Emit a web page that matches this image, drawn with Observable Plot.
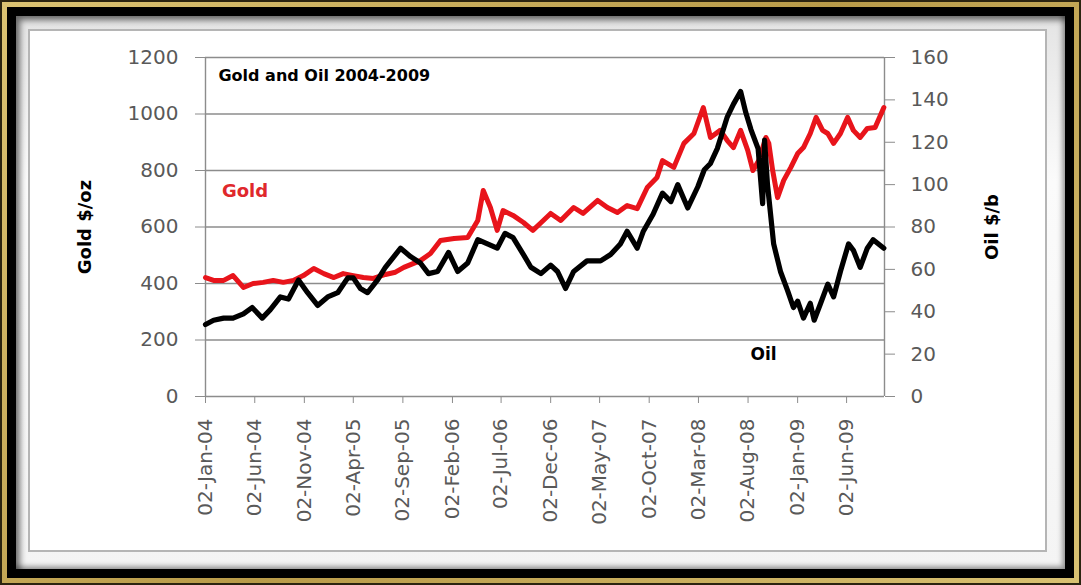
<!DOCTYPE html>
<html><head><meta charset="utf-8">
<script src="https://cdn.jsdelivr.net/npm/d3@7"></script>
<script src="https://cdn.jsdelivr.net/npm/@observablehq/plot@0.6"></script>
<style>
html,body{margin:0;padding:0;background:#fff;}
#wrap{position:relative;width:1081px;height:585px;overflow:hidden;font-family:"DejaVu Sans",sans-serif;}
.f0{position:absolute;left:0;top:0;width:1081px;height:585px;background:#2b2410;}
.f1{position:absolute;left:2px;top:2px;right:2px;bottom:2px;background:linear-gradient(135deg,#dcc372,#b99b49 50%,#d9c172);}
.f2{position:absolute;left:7px;top:7px;right:7px;bottom:7px;background:#000;}
.f3{position:absolute;left:16px;top:16px;right:16px;bottom:16px;background:linear-gradient(#e4e4e4,#fbfbfb 30%,#f4f4f4);box-shadow:inset 4px 4px 6px rgba(0,0,0,.55), inset -3px -3px 5px rgba(0,0,0,.35);}
.f4{position:absolute;left:28px;top:29px;width:1015px;height:519px;border:2px solid #b5b5b5;background:#fff;}
.plot{position:absolute;left:0;top:0;}
</style>
</head><body>
<div id="wrap">
<div class="f0"></div><div class="f1"></div><div class="f2"></div><div class="f3"></div><div class="f4"></div>
<div class="plot" id="p1"></div>
<div class="plot" id="p2"></div>
</div>
<script>
// ---- data ----
const goldDates = ["2004-01-02","2004-01-27","2004-02-27","2004-03-27","2004-04-28","2004-05-28","2004-06-28","2004-07-29","2004-08-29","2004-09-29","2004-10-30","2004-12-01","2005-01-01","2005-02-01","2005-03-02","2005-04-02","2005-05-03","2005-06-03","2005-07-10","2005-08-10","2005-09-05","2005-10-26","2005-11-26","2005-12-27","2006-02-07","2006-03-21","2006-04-21","2006-05-08","2006-05-30","2006-06-20","2006-07-08","2006-08-08","2006-09-09","2006-10-08","2006-11-02","2006-12-02","2007-01-02","2007-02-11","2007-03-12","2007-04-26","2007-05-26","2007-06-26","2007-07-26","2007-08-26","2007-09-26","2007-10-26","2007-11-12","2007-12-17","2008-01-17","2008-02-17","2008-03-17","2008-04-08","2008-05-08","2008-05-30","2008-06-18","2008-07-10","2008-08-01","2008-08-17","2008-09-04","2008-09-26","2008-10-05","2008-10-17","2008-11-01","2008-11-20","2008-12-12","2009-01-02","2009-01-20","2009-02-10","2009-02-28","2009-03-20","2009-04-05","2009-04-23","2009-05-14","2009-06-05","2009-06-23","2009-07-14","2009-08-05","2009-08-29","2009-09-25"];
const goldPrice = [421,411,411,428,386,400,404,411,404,411,428,453,435,421,435,428,421,418,432,440,457,481,506,552,559,563,623,729,669,588,658,641,616,588,615,648,623,669,648,694,669,651,676,665,740,775,835,811,896,931,1023,917,942,906,881,942,871,800,835,917,896,800,704,765,811,860,881,931,988,942,931,896,931,988,942,917,949,952,1023];

const oilDates = ["2004-01-02","2004-01-27","2004-02-27","2004-03-27","2004-04-28","2004-05-25","2004-06-25","2004-07-20","2004-08-20","2004-09-14","2004-10-15","2004-11-12","2004-12-13","2005-01-13","2005-02-13","2005-03-16","2005-04-02","2005-04-24","2005-05-16","2005-06-16","2005-07-10","2005-08-26","2005-09-26","2005-10-26","2005-11-20","2005-12-18","2006-01-21","2006-02-18","2006-03-21","2006-04-21","2006-05-21","2006-06-20","2006-07-14","2006-08-08","2006-09-09","2006-10-02","2006-11-02","2006-12-02","2006-12-23","2007-01-17","2007-02-11","2007-03-24","2007-05-05","2007-06-05","2007-07-05","2007-07-26","2007-08-26","2007-09-14","2007-10-14","2007-11-12","2007-12-08","2007-12-29","2008-01-29","2008-02-29","2008-03-20","2008-04-08","2008-04-29","2008-05-30","2008-06-18","2008-07-10","2008-07-26","2008-08-11","2008-09-02","2008-09-16","2008-09-22","2008-10-01","2008-10-20","2008-11-10","2008-12-02","2008-12-20","2009-01-02","2009-01-20","2009-02-10","2009-02-22","2009-03-14","2009-04-05","2009-04-23","2009-05-14","2009-06-08","2009-06-23","2009-07-14","2009-08-05","2009-08-23","2009-09-25"];
const oilPrice = [34,36,37,37,39,42,37,41,47,46,55,49,43,47,49,56,56,51,49,55,61,70,66,63,58,59,68,59,63,74,72,70,77,75,67,61,58,62,59,51,59,64,64,67,72,78,70,78,86,96,92,100,89,99,107,110,117,132,138,144,134,126,117,91,121,100,72,59,50,42,45,37,44,36,44,53,47,59,72,69,61,70,74,70];

const goldTicks = [0,200,400,600,800,1000,1200];
const oilTicks = [0,20,40,60,80,100,120,140,160];
const dateTickLabels = ["02-Jan-04","02-Jun-04","02-Nov-04","02-Apr-05","02-Sep-05","02-Feb-06","02-Jul-06","02-Dec-06","02-May-07","02-Oct-07","02-Mar-08","02-Aug-08","02-Jan-09","02-Jun-09"];
const dateDomain = ["2004-01-02","2009-09-27"];

const titleText = "Gold and Oil 2004-2009";
const goldAxisTitle = "Gold $/oz";
const oilAxisTitle = "Oil $/b";
const goldLabel = {date:"2004-05-03", value:726, text:"Gold"};
const oilLabel = {date:"2008-09-19", value:20, text:"Oil"};
const titlePos = {date:"2004-02-11", value:1136};

// ---- build ----
const parse = d3.utcParse("%Y-%m-%d");
const parseTick = d3.utcParse("%d-%b-%y");
const gold = goldDates.map((d,i)=>({date:parse(d), value:goldPrice[i]}));
const oil = oilDates.map((d,i)=>({date:parse(d), value:oilPrice[i]}));
const xTicks = dateTickLabels.map(s=>({date:parseTick(s), label:s}));
const xDomain = dateDomain.map(parse);

const gridColor = "#8c8c8c";
const tickTextColor = "#595959";
const font = "DejaVu Sans";

const common = {
  width:1081, height:585,
  marginTop:57, marginRight:197, marginBottom:189, marginLeft:205,
  style:{background:"transparent", overflow:"visible", fontFamily:font},
  x:{type:"utc", domain:xDomain, axis:null}
};

const p1 = Plot.plot({
  ...common,
  y:{domain:[0,1200], axis:null},
  marks:[
    Plot.ruleY(goldTicks, {stroke:gridColor, strokeWidth:1.4}),
    Plot.ruleX(xDomain, {stroke:gridColor, strokeWidth:1.4}),
    Plot.axisY(goldTicks, {anchor:"left", tickSize:10, tickPadding:17, fontSize:20, stroke:gridColor, fill:tickTextColor, label:null, tickFormat:d=>String(d)}),
    Plot.axisX(xTicks.map(d=>d.date), {anchor:"bottom", tickSize:7, stroke:gridColor, tickFormat:()=>"", label:null}),
    Plot.text(xTicks, {x:"date", text:"label", frameAnchor:"bottom", rotate:-90, textAnchor:"end", lineAnchor:"middle", dy:22, fontSize:20, fill:tickTextColor}),
    Plot.line(gold, {x:"date", y:"value", stroke:"#e8141b", strokeWidth:5, strokeLinejoin:"round", strokeLinecap:"round"}),
    Plot.text([goldLabel], {x:d=>parse(d.date), y:"value", text:"text", fill:"#e0282c", fontSize:18, fontWeight:"bold", textAnchor:"middle"}),
    Plot.text([titleText], {x:()=>parse(titlePos.date), y:()=>titlePos.value, text:d=>d, fill:"#000", fontSize:16, fontWeight:"bold", textAnchor:"start"}),
    Plot.text([goldAxisTitle], {text:d=>d, frameAnchor:"left", dx:-120, rotate:-90, textAnchor:"middle", fontSize:18, fontWeight:"bold", fill:"#000"})
  ]
});
document.getElementById("p1").appendChild(p1);

const p2 = Plot.plot({
  ...common,
  y:{domain:[0,160], axis:null},
  marks:[
    Plot.axisY(oilTicks, {anchor:"right", tickSize:10, tickPadding:16, fontSize:20, stroke:gridColor, fill:tickTextColor, label:null, tickFormat:d=>String(d)}),
    Plot.line(oil, {x:"date", y:"value", stroke:"#000", strokeWidth:5.2, strokeLinejoin:"round", strokeLinecap:"round"}),
    Plot.text([oilLabel], {x:d=>parse(d.date), y:"value", text:"text", fill:"#000", fontSize:17, fontWeight:"bold", textAnchor:"middle"}),
    Plot.text([oilAxisTitle], {text:d=>d, frameAnchor:"right", dx:108, rotate:-90, textAnchor:"middle", fontSize:18, fontWeight:"bold", fill:"#000"})
  ]
});
document.getElementById("p2").appendChild(p2);
</script>
</body></html>
